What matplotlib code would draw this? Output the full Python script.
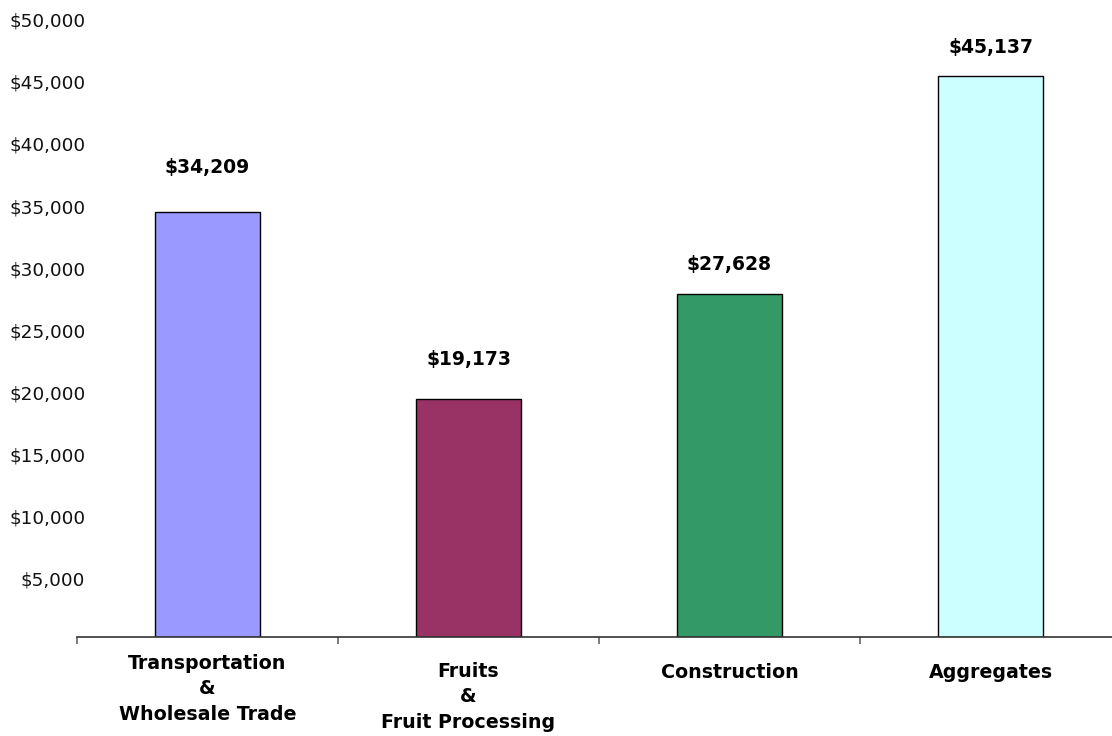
import matplotlib.pyplot as plt
import matplotlib.transforms as mtransforms
from matplotlib.ticker import FuncFormatter

# sector values
sectors = ["Transportation\n&\nWholesale Trade", "Fruits\n&\nFruit Processing",
           "Construction", "Aggregates"]
values = [34209, 19173, 27628, 45137]
colors = ["#9999FF", "#993366", "#339966", "#CCFFFF"]
yticks = [5000, 10000, 15000, 20000, 25000, 30000, 35000, 40000, 45000, 50000]

# label placement (pixels)
value_gap = [44, 39, 29, 29]
name_gap = [52, 60, 35, 35]

plt.rcParams["font.family"] = "DejaVu Sans"

W, H = 1112, 736
fig = plt.figure(figsize=(W / 100, H / 100), dpi=100)
left, right, bottom, top = 77, 1121, 637, 15.6
ax = fig.add_axes([left / W, (H - bottom) / H, (right - left) / W, (bottom - top) / H])

x = range(len(values))
ax.bar(x, values, width=0.4, color=colors, edgecolor="black", linewidth=1.0, zorder=2)

ax.set_xlim(-0.5, len(values) - 0.5)
ax.set_ylim(0, 50000)

for s in ["top", "right", "left"]:
    ax.spines[s].set_visible(False)
ax.spines["bottom"].set_color("#333333")
ax.spines["bottom"].set_linewidth(1.2)

# y ticks: labels only
ax.set_yticks(yticks)
ax.yaxis.set_major_formatter(FuncFormatter(lambda v, p: f"${v:,.0f}"))
ax.tick_params(axis="y", length=0, pad=-6, labelsize=13.3, labelcolor="#111111")
shift = mtransforms.ScaledTranslation(0, -4 / 100, fig.dpi_scale_trans)
for lab in ax.get_yticklabels():
    lab.set_transform(lab.get_transform() + shift)

# x ticks at category boundaries
ax.set_xticks([i - 0.5 for i in range(len(values) + 1)])
ax.set_xticklabels([])
ax.tick_params(axis="x", length=5, width=1.2, color="#666666", direction="out")

trans = mtransforms.blended_transform_factory(ax.transData, ax.transAxes)
for i, (name, v) in enumerate(zip(sectors, values)):
    off = mtransforms.ScaledTranslation(0, value_gap[i] / 100, fig.dpi_scale_trans)
    ax.text(i, v, f"${v:,}", ha="center", va="center", fontsize=13.5,
            fontweight="bold", transform=ax.transData + off)
    off2 = mtransforms.ScaledTranslation(0, -name_gap[i] / 100, fig.dpi_scale_trans)
    ax.text(i, 0, name, ha="center", va="center", fontsize=13.7, fontweight="bold",
            linespacing=1.42, transform=trans + off2)

fig.savefig("out.png", dpi=100)
